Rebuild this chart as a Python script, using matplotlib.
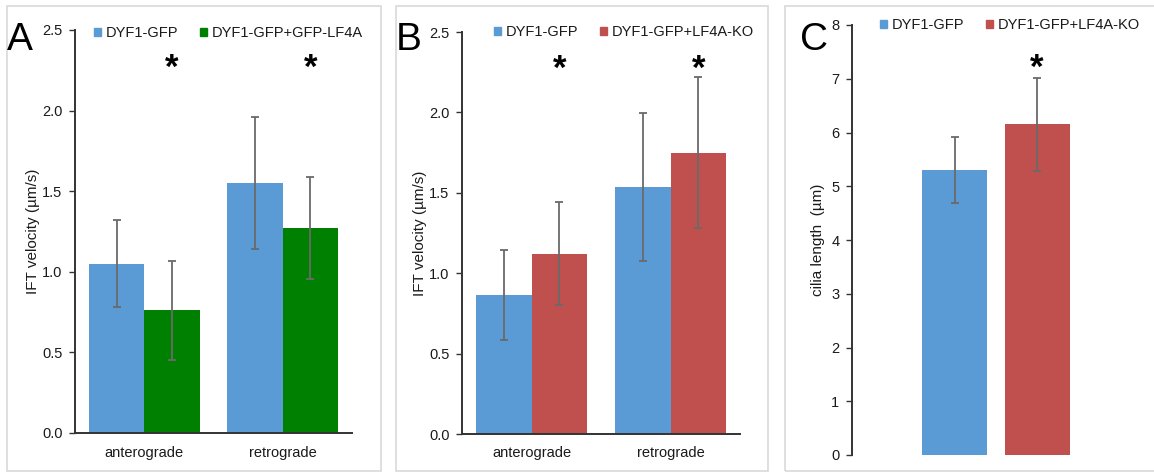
import matplotlib
matplotlib.use("Agg")
import matplotlib.pyplot as plt
from matplotlib.patches import Rectangle, Patch
import numpy as np

plt.rcParams['font.family'] = ['Liberation Sans', 'DejaVu Sans']

# ---------------- data ----------------
categories = ['anterograde', 'retrograde']

a_series = ['DYF1-GFP', 'DYF1-GFP+GFP-LF4A']
a_ctrl = [1.05, 1.55]
a_ctrl_err = [0.27, 0.41]
a_lf4a = [0.76, 1.27]
a_lf4a_err = [0.31, 0.315]
a_star_y = [2.26, 2.26]

b_series = ['DYF1-GFP', 'DYF1-GFP+LF4A-KO']
b_ctrl = [0.865, 1.535]
b_ctrl_err = [0.28, 0.46]
b_ko = [1.12, 1.75]
b_ko_err = [0.32, 0.47]
b_star_y = [2.27, 2.27]

c_series = ['DYF1-GFP', 'DYF1-GFP+LF4A-KO']
c_vals = [5.30, 6.155]
c_err = [0.615, 0.865]
c_star_y = 7.19

vel_ticks = [0.0, 0.5, 1.0, 1.5, 2.0, 2.5]
len_ticks = [0, 1, 2, 3, 4, 5, 6, 7, 8]

# ---------------- style ----------------
BLUE = '#5B9BD5'
GREEN = '#008000'
RED = '#C0504D'
ERRC = '#6a6a6a'
SPINE = '#333333'
TXT = '#1a1a1a'
FS = 10.5
STAR_FS = 25

W, H = 1154, 472
fig = plt.figure(figsize=(W / 100, H / 100), dpi=100)
fig.patch.set_facecolor('white')


def ax_px(l, t, r, b):
    return fig.add_axes([l / W, 1 - b / H, (r - l) / W, (b - t) / H])


def fpt(x, y):
    return (x / W, 1 - y / H)


# panel frames
for (l, t, r, b) in [(7, 6, 381, 471), (396, 6, 768, 471), (785, 6, 1165, 471)]:
    fig.patches.append(Rectangle(fpt(l, b), (r - l) / W, (b - t) / H,
                                 transform=fig.transFigure, fill=False,
                                 edgecolor='#d9d9d9', linewidth=1.2))


def style_axes(ax, show_bottom=True):
    for s in ['top', 'right']:
        ax.spines[s].set_visible(False)
    ax.spines['left'].set_color(SPINE)
    ax.spines['left'].set_linewidth(1.4)
    if show_bottom:
        ax.spines['bottom'].set_color(SPINE)
        ax.spines['bottom'].set_linewidth(1.4)
    else:
        ax.spines['bottom'].set_visible(False)
    ax.tick_params(axis='y', direction='out', length=4, width=1.0, color=SPINE,
                   labelsize=FS, labelcolor=TXT, pad=5)
    ax.tick_params(axis='x', length=0, labelsize=FS, labelcolor=TXT, pad=9)
    ax.set_facecolor('none')


def grouped(ax, s1, e1, s2, e2, c1, c2, names, stars):
    x = np.arange(len(categories))
    w = 0.4
    b1 = ax.bar(x - w / 2, s1, w, color=c1, label=names[0], zorder=2)
    b2 = ax.bar(x + w / 2, s2, w, color=c2, label=names[1], zorder=2)
    ax.errorbar(x - w / 2, s1, yerr=e1, fmt='none', ecolor=ERRC, elinewidth=1.3,
                capsize=3, capthick=1.3, zorder=3)
    ax.errorbar(x + w / 2, s2, yerr=e2, fmt='none', ecolor=ERRC, elinewidth=1.3,
                capsize=3, capthick=1.3, zorder=3)
    for xi, sy in zip(x + w / 2, stars):
        ax.text(xi, sy, '*', ha='center', va='center', fontsize=STAR_FS,
                fontweight='bold', color='black')
    ax.set_xlim(-0.5, len(categories) - 0.5)
    ax.set_xticks(x)
    ax.set_xticklabels(categories)
    ax.set_ylim(0, 2.5)
    ax.set_yticks(vel_ticks)
    ax.set_yticklabels([f'{v:.1f}' for v in vel_ticks])
    return b1, b2


def legend(ax, handles, cx, cy):
    ax.legend(handles=handles, loc='center', bbox_to_anchor=fpt(cx, cy),
              bbox_transform=fig.transFigure, ncol=2, frameon=False,
              fontsize=FS, handlelength=0.5, handleheight=0.5,
              handletextpad=0.3, columnspacing=1.5, borderpad=0,
              labelcolor=TXT)


# ---------- Panel A ----------
axA = ax_px(75, 30, 352, 433)
style_axes(axA)
grouped(axA, a_ctrl, a_ctrl_err, a_lf4a, a_lf4a_err, BLUE, GREEN, a_series, a_star_y)
axA.set_ylabel('IFT velocity (µm/s)', fontsize=FS + 0.5, color=TXT)
axA.yaxis.set_label_coords((40 - 75) / 277, 0.5)
legend(axA, [Patch(color=BLUE, label=a_series[0]), Patch(color=GREEN, label=a_series[1])], 228, 33)
fig.text(*fpt(7, 50), 'A', fontsize=28, ha='left', va='baseline', color='black')

# ---------- Panel B ----------
axB = ax_px(462, 32, 740, 434)
style_axes(axB)
grouped(axB, b_ctrl, b_ctrl_err, b_ko, b_ko_err, BLUE, RED, b_series, b_star_y)
axB.set_ylabel('IFT velocity (µm/s)', fontsize=FS + 0.5, color=TXT)
axB.yaxis.set_label_coords((427 - 462) / 278, 0.5)
legend(axB, [Patch(color=BLUE, label=b_series[0]), Patch(color=RED, label=b_series[1])], 624, 32)
fig.text(*fpt(396, 50), 'B', fontsize=28, ha='left', va='baseline', color='black')

# ---------- Panel C ----------
axC = ax_px(852, 25, 1140, 455)
style_axes(axC, show_bottom=False)
wc = 0.225
offs = 0.143
xc = np.array([-offs, offs])
axC.bar(xc, c_vals, wc, color=[BLUE, RED], zorder=2)
axC.errorbar(xc, c_vals, yerr=c_err, fmt='none', ecolor=ERRC, elinewidth=1.3,
             capsize=3, capthick=1.3, zorder=3)
axC.text(xc[1], c_star_y, '*', ha='center', va='center', fontsize=STAR_FS,
         fontweight='bold', color='black')
axC.set_xlim(-0.5, 0.5)
axC.set_xticks([])
axC.set_ylim(0, 8)
axC.set_yticks(len_ticks)
axC.set_ylabel('cilia length  (µm)', fontsize=FS + 0.5, color=TXT)
axC.yaxis.set_label_coords((825 - 852) / 288, 0.5)
legend(axC, [Patch(color=BLUE, label=c_series[0]), Patch(color=RED, label=c_series[1])], 1010, 25)
fig.text(*fpt(800, 50), 'C', fontsize=28, ha='left', va='baseline', color='black')

fig.savefig('out.png', dpi=100, facecolor='white')
